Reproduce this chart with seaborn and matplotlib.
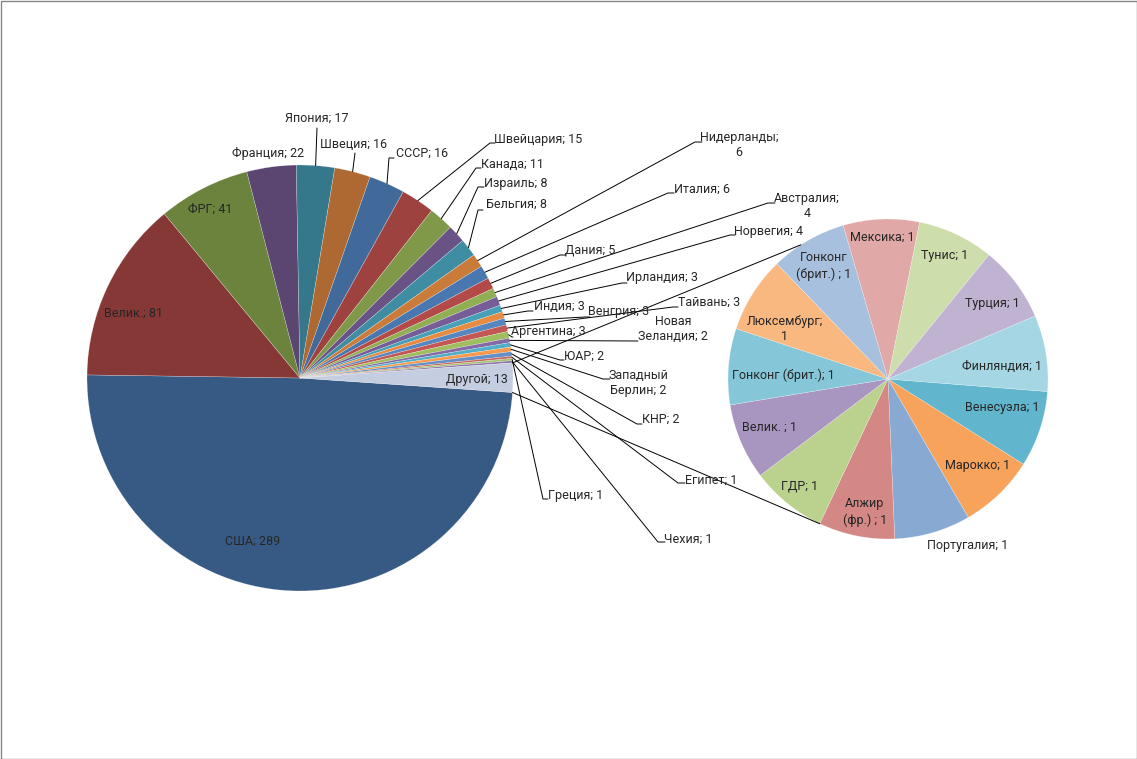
import numpy as np
import matplotlib
matplotlib.use("Agg")
import matplotlib.pyplot as plt
from matplotlib.patches import Rectangle
import seaborn as sns

# data: main pie (clockwise from the US slice), then the "other" slice
main_names = ["США", "Велик.", "ФРГ", "Франция", "Япония", "Швеция", "СССР",
              "Швейцария", "Канада", "Израиль", "Бельгия", "Нидерланды", "Италия",
              "Дания", "Австралия", "Норвегия", "Ирландия", "Индия", "Венгрия",
              "Тайвань", "Аргентина", "Новая Зеландия", "ЮАР", "Западный Берлин",
              "КНР", "Египет", "Греция", "Чехия"]
main_values = [289, 81, 41, 22, 17, 16, 16, 15, 11, 8, 8, 6, 6, 5, 4, 4, 3, 3, 3,
               3, 3, 2, 2, 2, 2, 1, 1, 1]
other_name = "Другой"
other_value = 13

# secondary pie (breakdown of "Другой")
sub_names = ["Венесуэла", "Марокко", "Португалия", "Алжир (фр.) ", "ГДР",
             "Велик. ", "Гонконг (брит.)", "Люксембург", "Гонконг (брит.) ",
             "Мексика", "Тунис", "Турция", "Финляндия"]
sub_values = [1, 1, 1, 1, 1, 1, 1, 1, 1, 1, 1, 1, 1]

# layout (pixel coords of the 1137x759 picture)
W, H = 1137, 759
main_center = (300, 378)
main_r = 213
sub_center = (888, 379)
sub_r = 160

# label: (text x, text y, elbow x, elbow y, end x, wrap) ; elbow None -> no leader
main_label_pos = [
    (253, 541, None, None, None, False),
    (134, 313, None, None, None, False),
    (210, 209, None, None, None, False),
    (268, 153, None, None, None, False),
    (317, 118, 317, 128, 317, False),
    (354, 145, 355, 153, 355, False),
    (422, 153, 389, 158, 394, False),
    (538, 139, 490, 143, 495, False),
    (512, 164, 476, 168, 481, False),
    (516, 183, 478, 187, 484, False),
    (516, 204, 478, 210, 483, False),
    (739, 145, 695, 142, 702, True),
    (702, 189, 668, 193, 674, False),
    (590, 250, 560, 255, 566, False),
    (807, 206, 768, 203, 775, True),
    (769, 231, 730, 235, 735, False),
    (662, 278, 622, 283, 627, False),
    (559, 306, 528, 311, 533, False),
    (619, 312, 585, 317, 590, False),
    (709, 302, 673, 307, 678, False),
    (548, 332, 512, 337, 513, False),
    (673, 329, 638, 341, 638, True),
    (584, 356, 560, 360, 564, False),
    (638, 383, 603, 379, 610, True),
    (661, 419, 637, 424, 642, False),
    (711, 480, 678, 483, 685, False),
    (576, 495, 543, 499, 548, False),
    (688, 539, 658, 542, 665, False),
]
other_label_pos = (477, 379)
sub_label_pos = [
    (1002, 408, False), (978, 466, False), (968, 545, False), (865, 512, True),
    (800, 486, False), (769, 427, False), (783, 375, False), (785, 329, True),
    (824, 266, True), (882, 237, False), (945, 255, False), (992, 304, False),
    (1002, 366, False),
]

accents = ["#4F81BD", "#C0504D", "#9BBB59", "#8064A2", "#4BACC6", "#F79646"]
cycle_f = [-0.3, -0.18, -0.07, 0.04, 0.12, 0.32, 0.5]


def excel_col(i):
    c = np.array(matplotlib.colors.to_rgb(accents[i % 6]))
    f = cycle_f[min(i // 6, len(cycle_f) - 1)]
    if f < 0:
        c = c * (1 + f)
    else:
        c = c + (1 - c) * f
    return tuple(np.clip(c, 0, 1))


def P(x, y):
    return (x, H - y)


sns.set_style("white")
plt.rcParams['font.family'] = ['Roboto', 'DejaVu Sans']
FS = 9

fig = plt.figure(figsize=(W / 100, H / 100), dpi=100)
ax = fig.add_axes([0, 0, 1, 1])

n_main = len(main_values)
main_cols = [excel_col(i) for i in range(n_main)] + ["#C5CDE1"]
sub_cols = [excel_col(n_main + i) for i in range(len(sub_values))]

wedges, _ = ax.pie(main_values + [other_value], colors=main_cols, startangle=-3.9,
                   counterclock=False, radius=main_r, center=P(*main_center),
                   wedgeprops=dict(linewidth=0.3, edgecolor=(1, 1, 1, 0.5)))
sub_wedges, _ = ax.pie(sub_values, colors=sub_cols, startangle=-4.5,
                       counterclock=False, radius=sub_r, center=P(*sub_center),
                       wedgeprops=dict(linewidth=0.3, edgecolor=(1, 1, 1, 0.5)))


def edge_pt(w, ang):
    cx, cy = w.center
    return (cx + w.r * np.cos(np.radians(ang)), cy + w.r * np.sin(np.radians(ang)))


def lab(name, val, wrap):
    s = f"{name}; {val}"
    if wrap:
        s = s.replace(" ", "\n", 1)
    return s


for w, name, val, pos in zip(wedges, main_names, main_values, main_label_pos):
    tx, ty, ex, ey, endx, wrap = pos
    ax.text(*P(tx, ty), lab(name, val, wrap), fontsize=FS, ha='center',
            va='center', multialignment='center', linespacing=1.25)
    if ex is not None:
        sx, sy = edge_pt(w, (w.theta1 + w.theta2) / 2)
        ax.plot([sx, ex, endx], [sy, H - ey, H - ey], color='black', lw=0.7)

ax.text(*P(*other_label_pos), f"{other_name}; {other_value}", fontsize=FS,
        ha='center', va='center')

for w, name, val, pos in zip(sub_wedges, sub_names, sub_values, sub_label_pos):
    tx, ty, wrap = pos
    ax.text(*P(tx, ty), lab(name, val, wrap), fontsize=FS, ha='center',
            va='center', multialignment='center', linespacing=1.25)

# series lines between the "other" slice and the secondary pie
ow = wedges[-1]
sw = sub_wedges[0]
for a_main, a_sub in [(ow.theta2, 123), (ow.theta1, 244.8)]:
    p1 = edge_pt(ow, a_main)
    p2 = edge_pt(sw, a_sub)
    ax.plot([p1[0], p2[0]], [p1[1], p2[1]], color='black', lw=0.7)

ax.add_patch(Rectangle((0.5, 0.5), W - 1, H - 1, fill=False, edgecolor='#868686',
                       lw=1))
ax.set_xlim(0, W)
ax.set_ylim(0, H)
ax.set_aspect('equal')
ax.axis('off')

fig.savefig("out.png", dpi=100)
